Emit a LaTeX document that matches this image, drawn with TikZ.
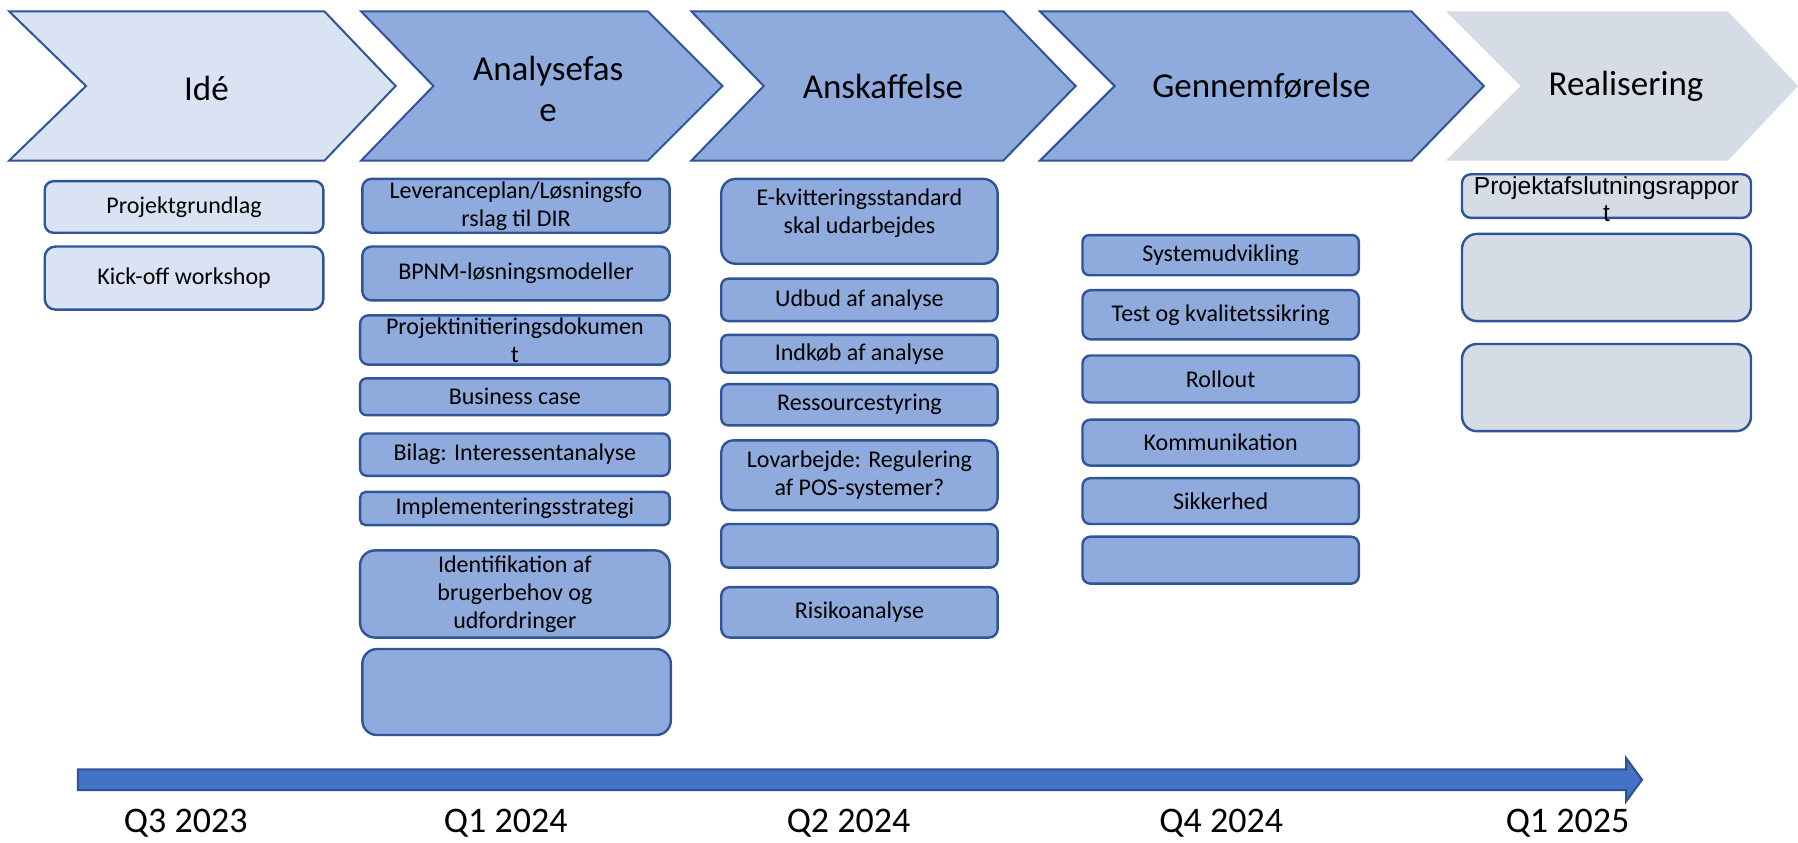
\documentclass[tikz,border=0pt]{standalone}
\usepackage{fontspec}
\setmainfont{Carlito}
\newfontfamily\rfont{Liberation Sans}
\definecolor{lightbl}{HTML}{DAE3F3}
\definecolor{midbl}{HTML}{8FAADC}
\definecolor{greybl}{HTML}{D6DCE5}
\definecolor{edgebl}{HTML}{2F5597}
\definecolor{arrowfill}{HTML}{4472C4}
\definecolor{arrowedge}{HTML}{2F528F}
\newcommand\chev[6]{% name, x left, x notch, x knee, x tip, style
  \path[#6] (#2,10) -- (#4,10) -- (#5,75) -- (#4,140) -- (#2,140) -- (#3,75) -- cycle;}
\newcommand\bx[7]{% style, name, x1, y1, x2, y2, text
  \node[bx,#1,minimum width={(#5-#3)*0.5734pt},minimum height={(#6-#4)*0.5734pt},
        rounded corners={0.17*(#6-#4)*0.5734pt},
        label={[name=#2t,align=center,inner sep=0pt,font=\boxfont]center:{#7}}]
        (#2) at ({(#3+#5)/2},{(#4+#6)/2}) {};}
\newcommand\boxfont{\fontsize{12}{14}\selectfont}
\begin{document}
\begin{tikzpicture}[x=0.5734pt,y=-0.5734pt,
  chevfill/.style={draw=edgebl,line width=1pt,line join=miter},
  bx/.style={draw=edgebl,line width=1.2pt,inner sep=0pt},
  lite/.style={fill=lightbl},
  mid/.style={fill=midbl},
  grey/.style={fill=greybl},
  phase/.style={font=\fontsize{17.5}{20.5}\selectfont,align=center,inner sep=0pt},
  qlabel/.style={font=\fontsize{18}{21}\selectfont,inner sep=0pt}]
\useasboundingbox (0,0) rectangle (1568,735);

% chevrons
\chev{c1}{8}{75}{283}{345}{chevfill,fill=lightbl}
\chev{c2}{315}{378}{565}{630}{chevfill,fill=midbl}
\chev{c3}{603}{666}{875}{938}{chevfill,fill=midbl}
\chev{c4}{907}{972}{1231}{1294}{chevfill,fill=midbl}
\chev{c5}{1261}{1326}{1507}{1568}{fill=greybl}
\node[phase] (p1) at (180,77) {Idé};
\node[phase] (p2) at (478,78) {Analysefas\\e};
\node[phase] (p3) at (770,75) {Anskaffelse};
\node[phase] (p4) at (1100,75) {Gennemførelse};
\node[phase] (p5) at (1418,75) {Realisering};

% Idé column
\bx{lite}{a1}{39}{158}{282}{203}{Projektgrundlag}
\bx{lite}{a2}{39}{215}{282}{270}{Kick-off workshop}

% Analysefase column
\bx{mid}{b1}{316}{156}{584}{203}{Leveranceplan/Løsningsfo\\rslag til DIR}
\bx{mid}{b2}{316}{215}{584}{262}{BPNM-løsningsmodeller}
\bx{mid}{b3}{314}{275}{584}{318}{Projektinitieringsdokumen\\t}
\bx{mid}{b4}{314}{330}{584}{362}{Business case}
\bx{mid}{b5}{314}{378}{584}{415}{Bilag: Interessentanalyse}
\bx{mid}{b6}{314}{429}{584}{458}{Implementeringsstrategi}
\bx{mid}{b7}{314}{480}{584}{556}{Identifikation af\\brugerbehov og\\udfordringer}
\bx{mid}{b8}{316}{566}{585}{641}{}

% Anskaffelse column
\bx{mid}{d1}{629}{156}{870}{230}{}
\node[align=center,inner sep=0pt,font=\boxfont] (d1t) at (749.5,186) {E-kvitteringsstandard\\skal udarbejdes};
\bx{mid}{d2}{629}{243}{870}{280}{Udbud af analyse}
\bx{mid}{d3}{629}{292}{870}{325}{Indkøb af analyse}
\bx{mid}{d4}{629}{335}{870}{371}{Ressourcestyring}
\bx{mid}{d5}{629}{384}{870}{445}{Lovarbejde: Regulering\\af POS-systemer?}
\bx{mid}{d6}{629}{457}{870}{495}{}
\bx{mid}{d7}{629}{512}{870}{556}{Risikoanalyse}

% Gennemførelse column
\bx{mid}{e1}{944}{205}{1185}{240}{Systemudvikling}
\bx{mid}{e2}{944}{253}{1185}{296}{Test og kvalitetssikring}
\bx{mid}{e3}{944}{310}{1185}{351}{Rollout}
\bx{mid}{e4}{944}{366}{1185}{406}{Kommunikation}
\bx{mid}{e5}{944}{417}{1185}{457}{Sikkerhed}
\bx{mid}{e6}{944}{468}{1185}{509}{}

% Realisering column
\node[bx,grey,minimum width={(1527-1275)*0.5734pt},minimum height={(190-152)*0.5734pt},
      rounded corners={0.2*38*0.5734pt}] (f1) at (1401,171) {};
\node[align=center,inner sep=0pt,font=\rfont\fontsize{12.3}{13.5}\selectfont] (f1t) at (1401,174) {Projektafslutningsrappor\\t};
\bx{grey}{f2}{1275}{204}{1527}{280}{}
\bx{grey}{f3}{1275}{300}{1527}{376}{}

% timeline arrow
\draw[fill=arrowfill,draw=arrowedge,line width=1pt,line join=miter]
  (68,671) -- (1418,671) -- (1418,661) -- (1432,680) -- (1418,699) -- (1418,689) -- (68,689) -- cycle;
\node[qlabel] (q1) at (162,718) {Q3 2023};
\node[qlabel] (q2) at (441,718) {Q1 2024};
\node[qlabel] (q3) at (740,718) {Q2 2024};
\node[qlabel] (q4) at (1065,718) {Q4 2024};
\node[qlabel] (q5) at (1367,718) {Q1 2025};
\end{tikzpicture}
\end{document}
